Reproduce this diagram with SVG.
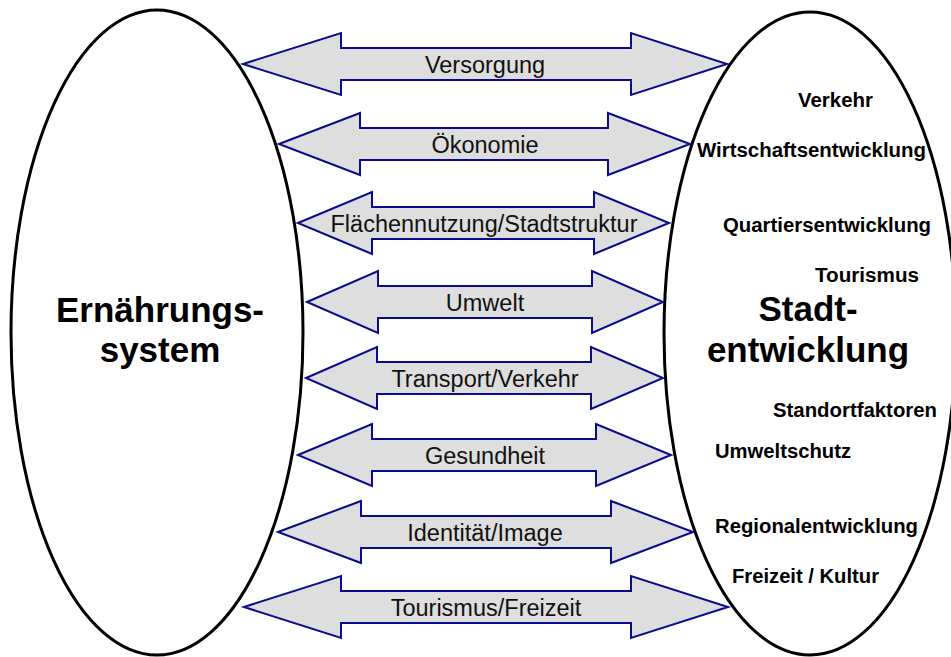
<svg xmlns="http://www.w3.org/2000/svg" width="951" height="657" viewBox="0 0 951 657">
  <style>
    .sys { fill: #ffffff; stroke: #000000; stroke-width: 3; }
    .title { font-family: "Liberation Sans", Arial, sans-serif; font-weight: bold; font-size: 35px; fill: #000000; text-anchor: middle; }
    .topic { font-family: "Liberation Sans", Arial, sans-serif; font-weight: bold; font-size: 20px; fill: #000000; }
    .link { fill: #dedede; stroke: #0a0a8c; stroke-width: 2; stroke-linejoin: miter; }
    .link-label { font-family: "Liberation Sans", Arial, sans-serif; font-size: 23.5px; fill: #111111; text-anchor: middle; }
  </style>
  <rect width="951" height="657" fill="#ffffff"/>

  <!-- food system -->
  <g id="ernaehrungssystem">
    <ellipse class="sys" cx="157" cy="332.5" rx="146" ry="322.5"/>
    <text class="title" x="160" y="322">Ernährungs-</text>
    <text class="title" x="160" y="362">system</text>
  </g>

  <!-- urban development -->
  <g id="stadtentwicklung">
    <ellipse class="sys" cx="810" cy="333.5" rx="146" ry="321.5"/>
    <text class="title" x="808" y="321">Stadt-</text>
    <text class="title" x="808" y="362">entwicklung</text>
    <text class="topic" x="798" y="107" textLength="75" lengthAdjust="spacingAndGlyphs">Verkehr</text>
    <text class="topic" x="697" y="157" textLength="229" lengthAdjust="spacingAndGlyphs">Wirtschaftsentwicklung</text>
    <text class="topic" x="723" y="232" textLength="208" lengthAdjust="spacingAndGlyphs">Quartiersentwicklung</text>
    <text class="topic" x="815" y="282" textLength="104" lengthAdjust="spacingAndGlyphs">Tourismus</text>
    <text class="topic" x="773" y="417" textLength="164" lengthAdjust="spacingAndGlyphs">Standortfaktoren</text>
    <text class="topic" x="715" y="458" textLength="136" lengthAdjust="spacingAndGlyphs">Umweltschutz</text>
    <text class="topic" x="715" y="533" textLength="203" lengthAdjust="spacingAndGlyphs">Regionalentwicklung</text>
    <text class="topic" x="732" y="583" textLength="147" lengthAdjust="spacingAndGlyphs">Freizeit / Kultur</text>
  </g>

  <!-- two-way relations between the systems -->
  <g id="connectors">
    <g id="versorgung">
      <path class="link" d="M243,64 L341,33 L341,48 L631,48 L631,33 L727,64 L631,95 L631,80 L341,80 L341,95 Z"/>
      <text class="link-label" x="485" y="73">Versorgung</text>
    </g>
    <g id="oekonomie">
      <path class="link" d="M279,144 L360,113 L360,128 L608,128 L608,113 L690,144 L608,175 L608,160 L360,160 L360,175 Z"/>
      <text class="link-label" x="485" y="153">Ökonomie</text>
    </g>
    <g id="flaechennutzung">
      <path class="link" d="M298,223 L372,192 L372,207 L594,207 L594,192 L669,223 L594,254 L594,239 L372,239 L372,254 Z"/>
      <text class="link-label" x="484" y="232">Flächennutzung/Stadtstruktur</text>
    </g>
    <g id="umwelt">
      <path class="link" d="M307,302 L378,271 L378,286 L592,286 L592,271 L663,302 L592,333 L592,318 L378,318 L378,333 Z"/>
      <text class="link-label" x="485" y="311">Umwelt</text>
    </g>
    <g id="transport">
      <path class="link" d="M306,378 L377,347 L377,362 L591,362 L591,347 L663,378 L591,409 L591,394 L377,394 L377,409 Z"/>
      <text class="link-label" x="485" y="387">Transport/Verkehr</text>
    </g>
    <g id="gesundheit">
      <path class="link" d="M298,455 L372,424 L372,439 L596,439 L596,424 L671,455 L596,486 L596,471 L372,471 L372,486 Z"/>
      <text class="link-label" x="485" y="464">Gesundheit</text>
    </g>
    <g id="identitaet">
      <path class="link" d="M278,532 L361,501 L361,516 L611,516 L611,501 L693,532 L611,563 L611,548 L361,548 L361,563 Z"/>
      <text class="link-label" x="485" y="541">Identität/Image</text>
    </g>
    <g id="tourismus">
      <path class="link" d="M244,607 L341,576 L341,591 L631,591 L631,576 L728,607 L631,638 L631,623 L341,623 L341,638 Z"/>
      <text class="link-label" x="486" y="616">Tourismus/Freizeit</text>
    </g>
  </g>
</svg>
